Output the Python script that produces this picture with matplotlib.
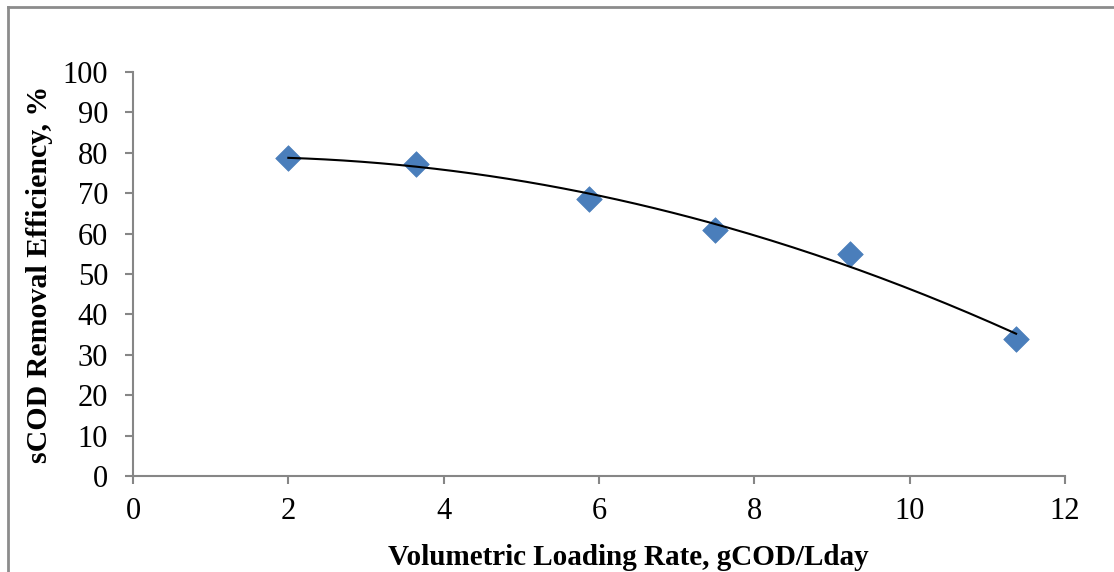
import numpy as np
import matplotlib
matplotlib.use("Agg")
import matplotlib.pyplot as plt
from matplotlib.lines import Line2D

# Data
loading_rate = [2.0, 3.65, 5.87, 7.5, 9.23, 11.37]
removal_eff = [78.8, 77.3, 68.5, 61.0, 55.0, 34.0]
x_ticks = [0, 2, 4, 6, 8, 10, 12]
y_ticks = [0, 10, 20, 30, 40, 50, 60, 70, 80, 90, 100]
x_label = "Volumetric Loading Rate, gCOD/Lday"
y_label = "sCOD Removal Efficiency, %"

W, H = 1114, 572
fig = plt.figure(figsize=(W / 100, H / 100), dpi=100)
plt.rcParams['font.family'] = ['Liberation Serif', 'DejaVu Serif']

ax = fig.add_axes([133 / W, 1 - 476 / H, (1065 - 133) / W, (476 - 72) / H])

# Polynomial (order 2) trendline
coef = np.polyfit(loading_rate, removal_eff, 2)
xt = np.linspace(min(loading_rate), max(loading_rate), 200)
ax.plot(xt, np.polyval(coef, xt), color='black', lw=1.5, zorder=3)

ax.scatter(loading_rate, removal_eff, marker='D', s=170, color='#4A7EBB',
           edgecolor='#4A7EBB', linewidth=0.5, zorder=2)

ax.set_xlim(0, 12)
ax.set_ylim(0, 100)
ax.set_xticks(x_ticks)
ax.set_yticks(y_ticks)

axis_col = '#868686'
for s in ['top', 'right']:
    ax.spines[s].set_visible(False)
for s in ['left', 'bottom']:
    ax.spines[s].set_color(axis_col)
    ax.spines[s].set_linewidth(1.5)

ax.tick_params(axis='both', direction='out', color=axis_col, width=1.5,
               length=6, labelsize=22, labelcolor='black')
ax.tick_params(axis='y', pad=12)
ax.tick_params(axis='x', pad=9)

ax.set_xlabel(x_label, fontsize=21, fontweight='bold')
ax.xaxis.set_label_coords((628 - 133) / 932, (476 - 544) / 404)
ax.set_ylabel(y_label, fontsize=21.5, fontweight='bold', labelpad=7)

# Outer chart frame (partially visible)
frame_col = '#8c8c8c'
fig.add_artist(Line2D([8 / W, 8 / W], [0, 1 - 7 / H], transform=fig.transFigure,
                      color=frame_col, lw=2))
fig.add_artist(Line2D([8 / W, 1], [1 - 7 / H, 1 - 7 / H], transform=fig.transFigure,
                      color=frame_col, lw=2))

fig.savefig("out.png", dpi=100)
